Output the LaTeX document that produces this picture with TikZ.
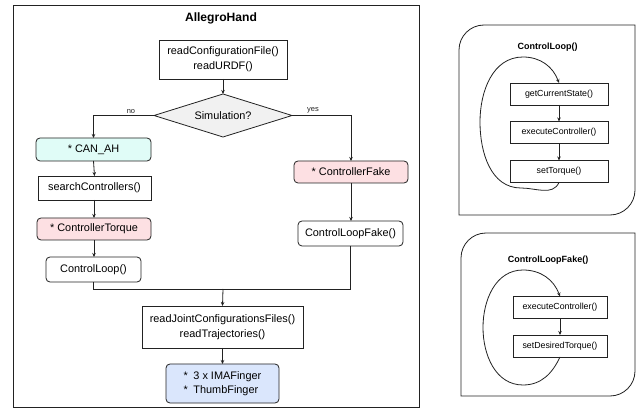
\documentclass[tikz,border=0pt]{standalone}
\usepackage{fontspec}
\setmainfont{Liberation Sans}
\usetikzlibrary{arrows.meta,shapes.geometric}
\definecolor{cyanfill}{HTML}{E0FCF7}
\definecolor{pinkfill}{HTML}{FDE0E3}
\definecolor{bluefill}{HTML}{DAE6FC}
\definecolor{grayfill}{HTML}{F1F1F1}
\definecolor{linecol}{HTML}{222222}
\tikzset{
  every node/.style={inner sep=0pt, outer sep=0pt},
  conn/.style={draw=linecol, line width=0.8pt},
  arr/.style={conn, -{Stealth[length=4pt,width=3.5pt]}},
  mainbox/.style={draw=linecol, line width=0.8pt, fill=white, align=center, font=\fontsize{10.9}{15}\selectfont},
  roundbox/.style={mainbox, rounded corners=4pt},
  smallbox/.style={draw=linecol, line width=0.8pt, fill=white, align=center, font=\fontsize{8.8}{11}\selectfont, minimum width=98pt, minimum height=22pt},
  paneltitle/.style={font=\bfseries\fontsize{9}{11}\selectfont},
  lbl/.style={font=\fontsize{7.5}{9}\selectfont, text=linecol}
}
\begin{document}
\begin{tikzpicture}[x=1pt,y=-1pt]
\useasboundingbox (0,0) rectangle (641,409);
\fill[white] (0,0) rectangle (641,409);

% main frame
\node[draw=linecol, line width=0.8pt, minimum width=406pt, minimum height=402pt] (frame) at (216,206) {};
\node[font=\bfseries\fontsize{12.1}{14}\selectfont] (title) at (221,18.5) {AllegroHand};

\node[mainbox, minimum width=128pt, minimum height=39pt] (rc) at (223,59.5) {readConfigurationFile()\\readURDF()};
\node[draw=linecol, line width=0.8pt, fill=grayfill, diamond, aspect=3.2, minimum width=138pt, minimum height=43pt, font=\fontsize{10.9}{14}\selectfont] (sim) at (223,115.5) {Simulation?};

\node[roundbox, fill=cyanfill, minimum width=115pt, minimum height=23pt] (can) at (93.5,149.5) {* CAN\_AH};
\node[mainbox, minimum width=113pt, minimum height=24pt] (sc) at (94.5,188) {searchControllers()};
\node[roundbox, fill=pinkfill, minimum width=114pt, minimum height=22pt] (ct) at (94,229) {* ControllerTorque};
\node[roundbox, minimum width=95pt, minimum height=25pt] (cl) at (93.5,269.5) {ControlLoop()};

\node[roundbox, fill=pinkfill, minimum width=114pt, minimum height=22pt] (cf) at (351,172) {* ControllerFake};
\node[roundbox, minimum width=105pt, minimum height=25pt] (clf) at (350.5,233.5) {ControlLoopFake()};

\node[mainbox, minimum width=161pt, minimum height=42pt] (rj) at (222.5,327) {readJointConfigurationsFiles()\\readTrajectories()};
\node[roundbox, fill=bluefill, minimum width=113pt, minimum height=39pt, align=left, font=\fontsize{10.9}{14}\selectfont] (fg) at (222.5,383.5) {*\enspace 3 x IMAFinger\\*\enspace ThumbFinger};

\coordinate (mj) at (223,289);

\draw[arr] (rc.south) -- (sim.north);
\draw[arr] (sim.west) -| (can.north);
\draw[arr] (sim.east) -| (cf.north);
\node[lbl] (no) at (131,112) {no};
\node[lbl] (yes) at (313,110.5) {yes};
\draw[arr] (can.south) -- (sc.north);
\draw[arr] (sc.south -| ct.north) -- (ct.north);
\draw[arr] (ct.south) -- (ct.south |- cl.north);
\draw[arr] (cf.south) -- (cf.south |- clf.north);
\draw[conn] (cl.south) |- (mj);
\draw[conn] (clf.south) |- (mj);
\draw[arr] (mj) -- (rj.north);
\draw[arr] (rj.south) -- (fg.north);

% ControlLoop panel
\draw[line width=0.8pt, draw=linecol] (459,215) -- (459,50) .. controls (459,36.2) and (470.2,25) .. (484,25) -- (635,25) -- (635,190) .. controls (635,203.8) and (623.8,215) .. (610,215) -- cycle;
\node[paneltitle] (t1) at (547.5,47) {ControlLoop()};
\node[smallbox] (gc) at (559,94) {getCurrentState()};
\node[smallbox] (ec1) at (559,132.5) {executeController()};
\node[smallbox] (st) at (559,171.5) {setTorque()};
\draw[arr] (gc.south) -- (ec1.north);
\draw[arr] (ec1.south) -- (st.north);
\coordinate (l1b) at (521,188);
\coordinate (l1l) at (480,122);
\coordinate (l1t) at (523,57);
\draw[arr] (st.south) to[out=-115,in=0] (l1b) to[out=180,in=-90] (l1l) to[out=90,in=180] (l1t) to[out=0,in=110] (gc.north);

% ControlLoopFake panel
\draw[line width=0.8pt, draw=linecol] (461,396) -- (461,258) .. controls (461,244.2) and (472.2,233) .. (486,233) -- (635,233) -- (635,371) .. controls (635,384.8) and (623.8,396) .. (610,396) -- cycle;
\node[paneltitle] (t2) at (548,260) {ControlLoopFake()};
\node[smallbox, minimum width=94pt] (ec2) at (560,307.5) {executeController()};
\node[smallbox, minimum width=94pt] (sdt) at (560,346) {setDesiredTorque()};
\draw[arr] (ec2.south) -- (sdt.north);
\coordinate (l2b) at (523,385);
\coordinate (l2l) at (483,327.5);
\coordinate (l2t) at (523,270);
\draw[arr] (sdt.south) to[out=-115,in=0] (l2b) to[out=180,in=-90] (l2l) to[out=90,in=180] (l2t) to[out=0,in=110] (ec2.north);
\end{tikzpicture}
\end{document}
